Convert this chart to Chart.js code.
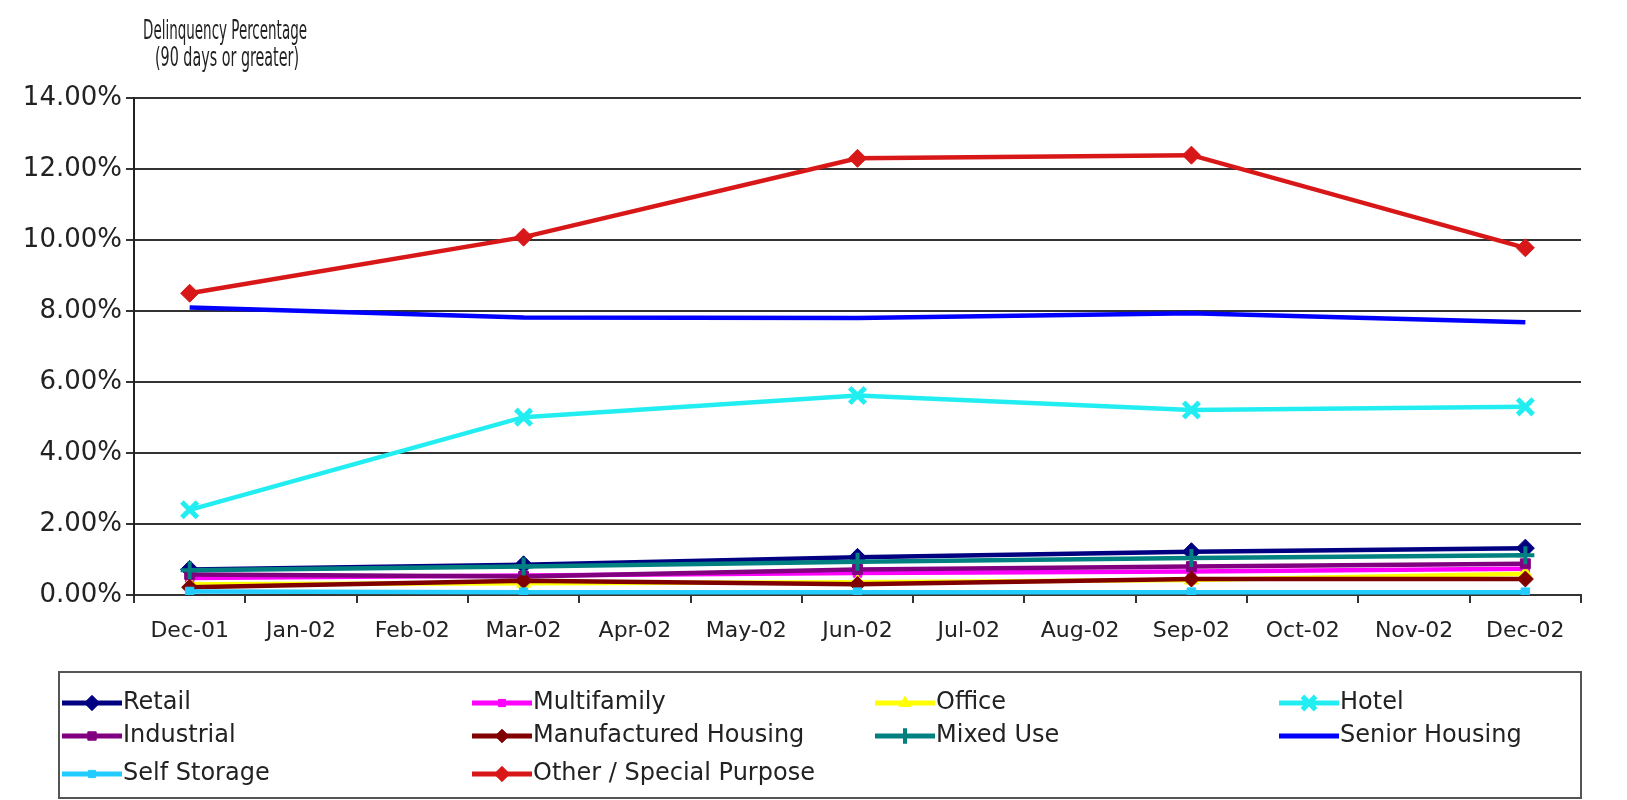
<!DOCTYPE html>
<html><head><meta charset="utf-8">
<script src="https://cdn.jsdelivr.net/npm/chart.js@4.4.1/dist/chart.umd.min.js"></script>
<style>html,body{margin:0;padding:0;background:#fff}#wrap{width:1627px;height:800px;position:relative}</style>
</head><body><div id="wrap"><canvas id="c"></canvas></div>
<script>
const months = ['Dec-01','Jan-02','Feb-02','Mar-02','Apr-02','May-02','Jun-02','Jul-02','Aug-02','Sep-02','Oct-02','Nov-02','Dec-02'];
const seriesNames = ['Retail','Multifamily','Office','Hotel','Industrial','Manufactured Housing','Mixed Use','Senior Housing','Self Storage','Other / Special Purpose'];
const retail       = [0.72,null,null,0.85,null,null,1.06,null,null,1.22,null,null,1.32];
const multifamily  = [0.48,null,null,0.55,null,null,0.62,null,null,0.66,null,null,0.74];
const office       = [0.30,null,null,0.33,null,null,0.36,null,null,0.42,null,null,0.60];
const hotel        = [2.40,null,null,5.01,null,null,5.62,null,null,5.21,null,null,5.30];
const industrial   = [0.58,null,null,0.52,null,null,0.72,null,null,0.80,null,null,0.88];
const manufactured = [0.22,null,null,0.40,null,null,0.30,null,null,0.45,null,null,0.45];
const mixedUse     = [0.70,null,null,0.80,null,null,0.94,null,null,1.04,null,null,1.12];
const senior       = [8.10,null,null,7.82,null,null,7.80,null,null,7.94,null,null,7.68];
const selfStorage  = [0.10,null,null,0.08,null,null,0.08,null,null,0.08,null,null,0.08];
const other        = [8.50,null,null,10.08,null,null,12.30,null,null,12.39,null,null,9.78];
const yTickValues = [0,2,4,6,8,10,12,14];
const titleLines = ['Delinquency Percentage','(90 days or greater)'];

const seriesData = [retail,multifamily,office,hotel,industrial,manufactured,mixedUse,senior,selfStorage,other];
const styles = [
  {c:'#000080', ps:'rectRot', r:9, bw:1},
  {c:'#ff00ff', ps:'rect', r:6, bw:1},
  {c:'#ffff00', ps:'triangle', r:8, bw:1},
  {c:'#22eef2', ps:'crossRot', r:11, bw:5},
  {c:'#800080', ps:'rect', r:7, bw:1},
  {c:'#800000', ps:'rectRot', r:8, bw:1},
  {c:'#008080', ps:'cross', r:9, bw:4},
  {c:'#0000ff', ps:'circle', r:0, bw:1},
  {c:'#22ccff', ps:'rect', r:6, bw:1},
  {c:'#d81818', ps:'rectRot', r:9, bw:1}
];

const datasets = seriesNames.map((name,i)=>({
  label:name,
  data:seriesData[i],
  borderColor:styles[i].c,
  backgroundColor:styles[i].c,
  pointBackgroundColor:styles[i].c,
  pointBorderColor:styles[i].c,
  pointStyle:styles[i].ps,
  pointRadius:styles[i].r,
  pointHoverRadius:styles[i].r,
  pointBorderWidth:styles[i].bw,
  borderWidth:4.5,
  tension:0,
  spanGaps:true,
  order: seriesNames.length - i
}));

const gridLegend = {
  id:'gridLegend',
  afterDraw(chart){
    const ctx = chart.ctx;
    ctx.save();
    ctx.strokeStyle='#555'; ctx.lineWidth=2;
    ctx.strokeRect(59, 672, 1522, 126);
    const cols=[62,472,875,1279]; const rows=[703,736,774];
    chart.data.datasets.forEach((ds,i)=>{
      const x=cols[i%4], y=rows[Math.floor(i/4)];
      ctx.strokeStyle=ds.borderColor; ctx.lineWidth=5;
      ctx.beginPath(); ctx.moveTo(x,y); ctx.lineTo(x+60,y); ctx.stroke();
      if (ds.pointRadius>0){
        ctx.fillStyle=ds.pointBackgroundColor; ctx.strokeStyle=ds.pointBorderColor; ctx.lineWidth=ds.pointBorderWidth;
        Chart.helpers.drawPoint(ctx,{pointStyle:ds.pointStyle,radius:ds.pointRadius*0.85,rotation:0,borderWidth:ds.pointBorderWidth},x+30,y);
      }
      ctx.fillStyle='#222'; ctx.font='24px "DejaVu Sans"'; ctx.textBaseline='middle'; ctx.textAlign='left';
      ctx.fillText(ds.label,x+61,y);
    });
    ctx.fillStyle='#222';
    ctx.font='26px "Liberation Sans Narrow", "DejaVu Sans Condensed", "DejaVu Sans"'; ctx.textAlign='center'; ctx.textBaseline='middle';
    ctx.fillText(titleLines[0],225,32,164);
    ctx.fillText(titleLines[1],227,59,144);
    ctx.restore();
  }
};

new Chart(document.getElementById('c'), {
  type:'line',
  data:{labels:months, datasets},
  plugins:[gridLegend],
  options:{
    responsive:true, maintainAspectRatio:false, animation:false,
    layout:{padding:{left:0,right:46,top:98,bottom:150}},
    plugins:{legend:{display:false}, title:{display:false}, tooltip:{enabled:false}},
    scales:{
      x:{
        offset:true,
        grid:{display:true, drawOnChartArea:false, drawTicks:true, tickLength:8, offset:true, color:'#333', lineWidth:2},
        border:{color:'#333', width:2},
        ticks:{font:{family:'DejaVu Sans', size:22}, color:'#222', padding:15, maxRotation:0, autoSkip:false},
        afterFit:(s)=>{s.height=55;}
      },
      y:{
        min:0, max:14,
        afterBuildTicks:(s)=>{s.ticks = yTickValues.map(v=>({value:v}));},
        grid:{color:'#333', lineWidth:2, tickLength:8, drawTicks:true},
        border:{color:'#222', width:2},
        ticks:{font:{family:'DejaVu Sans', size:26}, color:'#222', padding:4, callback:(v)=>Number(v).toFixed(2)+'%'},
        afterFit:(s)=>{s.width=134;}
      }
    }
  }
});
</script></body></html>
